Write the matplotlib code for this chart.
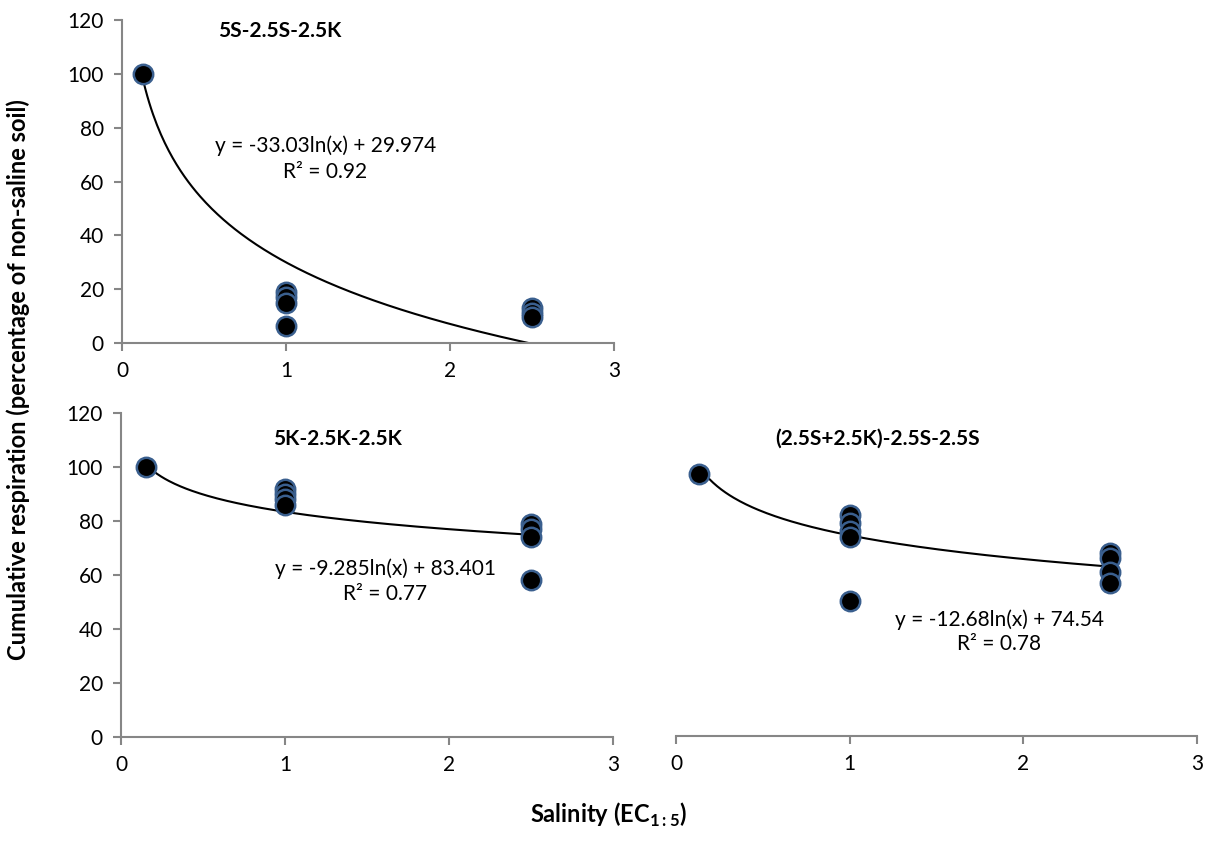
import numpy as np
import matplotlib.pyplot as plt

plt.rcParams['font.family'] = ['Lato', 'DejaVu Sans']
plt.rcParams['mathtext.fontset'] = 'custom'
plt.rcParams['mathtext.rm'] = 'Lato'
plt.rcParams['mathtext.bf'] = 'Lato:bold'

# salinity (EC 1:5) and cumulative respiration (% of non-saline soil)
x_a = [0.13, 1, 1, 1, 1, 2.5, 2.5, 2.5]
y_a = [100, 19, 17, 15, 6.5, 13, 11, 9.5]
x_b = [0.15, 1, 1, 1, 1, 2.5, 2.5, 2.5, 2.5]
y_b = [100, 92, 90, 88, 86, 79, 77, 74, 58]
x_c = [0.13, 1, 1, 1, 1, 1, 2.5, 2.5, 2.5, 2.5]
y_c = [97.5, 82, 79, 76, 74, 50, 68, 66, 61, 57]

titles = ["5S-2.5S-2.5K", "5K-2.5K-2.5K", "(2.5S+2.5K)-2.5S-2.5S"]
coef_a = (-33.03, 29.974)
coef_b = (-9.285, 83.401)
coef_c = (-12.68, 74.54)
r2 = [0.92, 0.77, 0.78]
eq_text = ["y = -33.03ln(x) + 29.974", "y = -9.285ln(x) + 83.401", "y = -12.68ln(x) + 74.54"]

W, H = 1217, 843
fig = plt.figure(figsize=(W / 100, H / 100), dpi=100)


def ax_at(l, t, r, b):
    return fig.add_axes([l / W, 1 - b / H, (r - l) / W, (b - t) / H])


ax1 = ax_at(122, 20, 614, 343)
ax2 = ax_at(121, 413, 613, 737)
ax3 = ax_at(676, 413, 1197, 736)

panels = [
    (ax1, x_a, y_a, coef_a, (0.96, 116), (1.24, 73.2), (1.24, 63.6)),
    (ax2, x_b, y_b, coef_b, (1.32, 110.5), (1.61, 62.5), (1.61, 53)),
    (ax3, x_c, y_c, coef_c, (1.16, 110.5), (1.86, 43.3), (1.86, 34)),
]

gray = '#868686'
for i, (ax, xs, ys, coef, tpos, epos, rpos) in enumerate(panels):
    xx = np.linspace(min(xs), max(xs), 200)
    ax.plot(xx, coef[0] * np.log(xx) + coef[1], color='black', lw=1.5, zorder=2)
    ax.scatter(xs, ys, s=195, c='black', edgecolors='#3A5F8E', linewidths=1.8, zorder=3)
    ax.set_xlim(0, 3)
    ax.set_ylim(0, 120)
    ax.set_xticks([0, 1, 2, 3])
    ax.set_yticks(range(0, 121, 20))
    for s in ['top', 'right']:
        ax.spines[s].set_visible(False)
    ax.spines['bottom'].set_color(gray)
    ax.spines['left'].set_color(gray)
    ax.spines['bottom'].set_linewidth(1.5)
    ax.spines['left'].set_linewidth(1.5)
    ax.tick_params(colors=gray, labelcolor='black', labelsize=15, length=6, width=1.5, pad=7)
    ax.text(*tpos, titles[i], ha='center', va='center', fontsize=15, fontweight='bold')
    ax.text(*epos, eq_text[i], ha='center', va='center', fontsize=15)
    ax.text(*rpos, "R² = %.2f" % r2[i], ha='center', va='center', fontsize=15)

ax3.spines['left'].set_visible(False)
ax3.tick_params(axis='y', left=False, labelleft=False)

fig.text(18 / W, 1 - 380 / H, "Cumulative respiration (percentage of non-saline soil)",
         rotation=90, ha='center', va='center', fontsize=17, fontweight='bold')
fig.text(609 / W, 1 - 815 / H, r"Salinity (EC$_{\mathbf{1{:}5}}$)",
         ha='center', va='center', fontsize=17, fontweight='bold')

fig.savefig("out.png", dpi=100)
